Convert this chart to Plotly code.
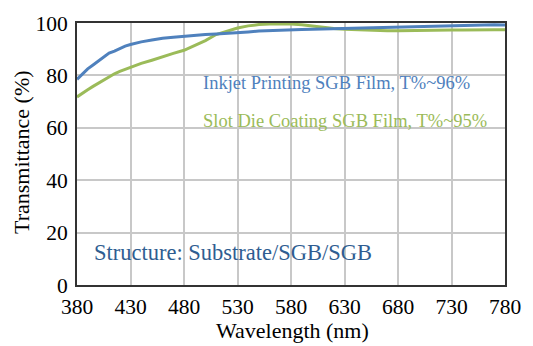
import plotly.graph_objects as go

# Wavelength grid (nm)
wavelength = [380, 385, 390, 395, 400, 405, 410, 415, 420, 425, 430, 440, 450, 460, 470,
              480, 490, 500, 510, 520, 530, 540, 550, 560, 570, 580, 590, 600, 610, 620,
              630, 640, 650, 660, 670, 680, 690, 700, 710, 720, 730, 740, 750, 760, 770, 780]

# Inkjet printed SGB film transmittance (%)
inkjet_t = [78.5, 80.5, 82.5, 84.0, 85.5, 87.3, 88.5, 89.3, 90.3, 91.2, 91.8, 92.8, 93.5,
            94.2, 94.6, 95.0, 95.3, 95.6, 95.8, 96.0, 96.3, 96.6, 96.9, 97.1, 97.3, 97.4,
            97.5, 97.6, 97.7, 97.8, 97.9, 98.1, 98.2, 98.4, 98.5, 98.6, 98.7, 98.8, 98.9,
            99.0, 99.1, 99.2, 99.3, 99.3, 99.3, 99.2]

# Slot-die coated SGB film transmittance (%)
slotdie_t = [71.8, 73.0, 74.5, 75.8, 77.0, 78.3, 79.5, 80.6, 81.5, 82.3, 83.2, 84.6, 85.8,
             87.2, 88.4, 89.6, 91.3, 93.3, 95.6, 97.0, 98.1, 98.9, 99.4, 99.6, 99.7, 99.6,
             99.3, 98.8, 98.3, 97.9, 97.6, 97.4, 97.2, 97.1, 97.0, 97.0, 97.1, 97.1, 97.2,
             97.2, 97.3, 97.3, 97.4, 97.4, 97.4, 97.4]

x_ticks = [380, 430, 480, 530, 580, 630, 680, 730, 780]
y_ticks = [0, 20, 40, 60, 80, 100]

BLUE = "#4f81bd"
GREEN = "#9bbb59"
NAVY = "#2f5d91"
SERIF = "Liberation Serif"

W, H = 533, 346
L, R, T, B = 77, 21, 19, 61
PW, PH = W - L - R, H - T - B


def px(x, y):
    """Pixel position inside the figure -> paper coordinates."""
    return (x - L) / PW, 1 - (y - T) / PH


fig = go.Figure()
fig.add_trace(go.Scatter(x=wavelength, y=slotdie_t, mode="lines",
                         line=dict(color=GREEN, width=3), showlegend=False))
fig.add_trace(go.Scatter(x=wavelength, y=inkjet_t, mode="lines",
                         line=dict(color=BLUE, width=3), showlegend=False))

annotations = []
for text, (x, y), color, size, xanchor, angle in [
    ("Inkjet Printing SGB Film, T%~96%", (203, 80), BLUE, 18.5, "left", 0),
    ("Slot Die Coating SGB Film, T%~95%", (203, 118), GREEN, 18.5, "left", 0),
    ("Structure: Substrate/SGB/SGB", (92, 252), NAVY, 22.5, "left", 0),
    ("Wavelength (nm)", (296, 331), "black", 22, "center", 0),
    ("Transmittance (%)", (20, 150), "black", 22, "center", -90),
]:
    ax, ay = px(x, y)
    annotations.append(dict(text=text, x=ax, y=ay, xref="paper", yref="paper",
                            showarrow=False, xanchor=xanchor, yanchor="middle",
                            textangle=angle, font=dict(color=color, size=size, family=SERIF)))

tick_font = dict(family=SERIF, size=21.5, color="black")

fig.update_layout(
    width=W, height=H,
    margin=dict(l=L, r=R, t=T, b=B),
    paper_bgcolor="white", plot_bgcolor="white",
    font=dict(family=SERIF, color="black", size=22),
    xaxis=dict(range=[380, 780], tickvals=x_ticks, showgrid=True, gridcolor="#c8c8c8",
               gridwidth=1.5, showline=True, linecolor="#333333", linewidth=2, mirror=True,
               ticks="", tickfont=tick_font, ticklabelstandoff=1, zeroline=False),
    yaxis=dict(range=[0, 100], tickvals=y_ticks, showgrid=True, gridcolor="#c8c8c8",
               gridwidth=1.5, showline=True, linecolor="#333333", linewidth=2, mirror=True,
               ticks="", tickfont=tick_font, ticklabelstandoff=3, zeroline=False),
    annotations=annotations,
)

fig.write_html("out.html")
